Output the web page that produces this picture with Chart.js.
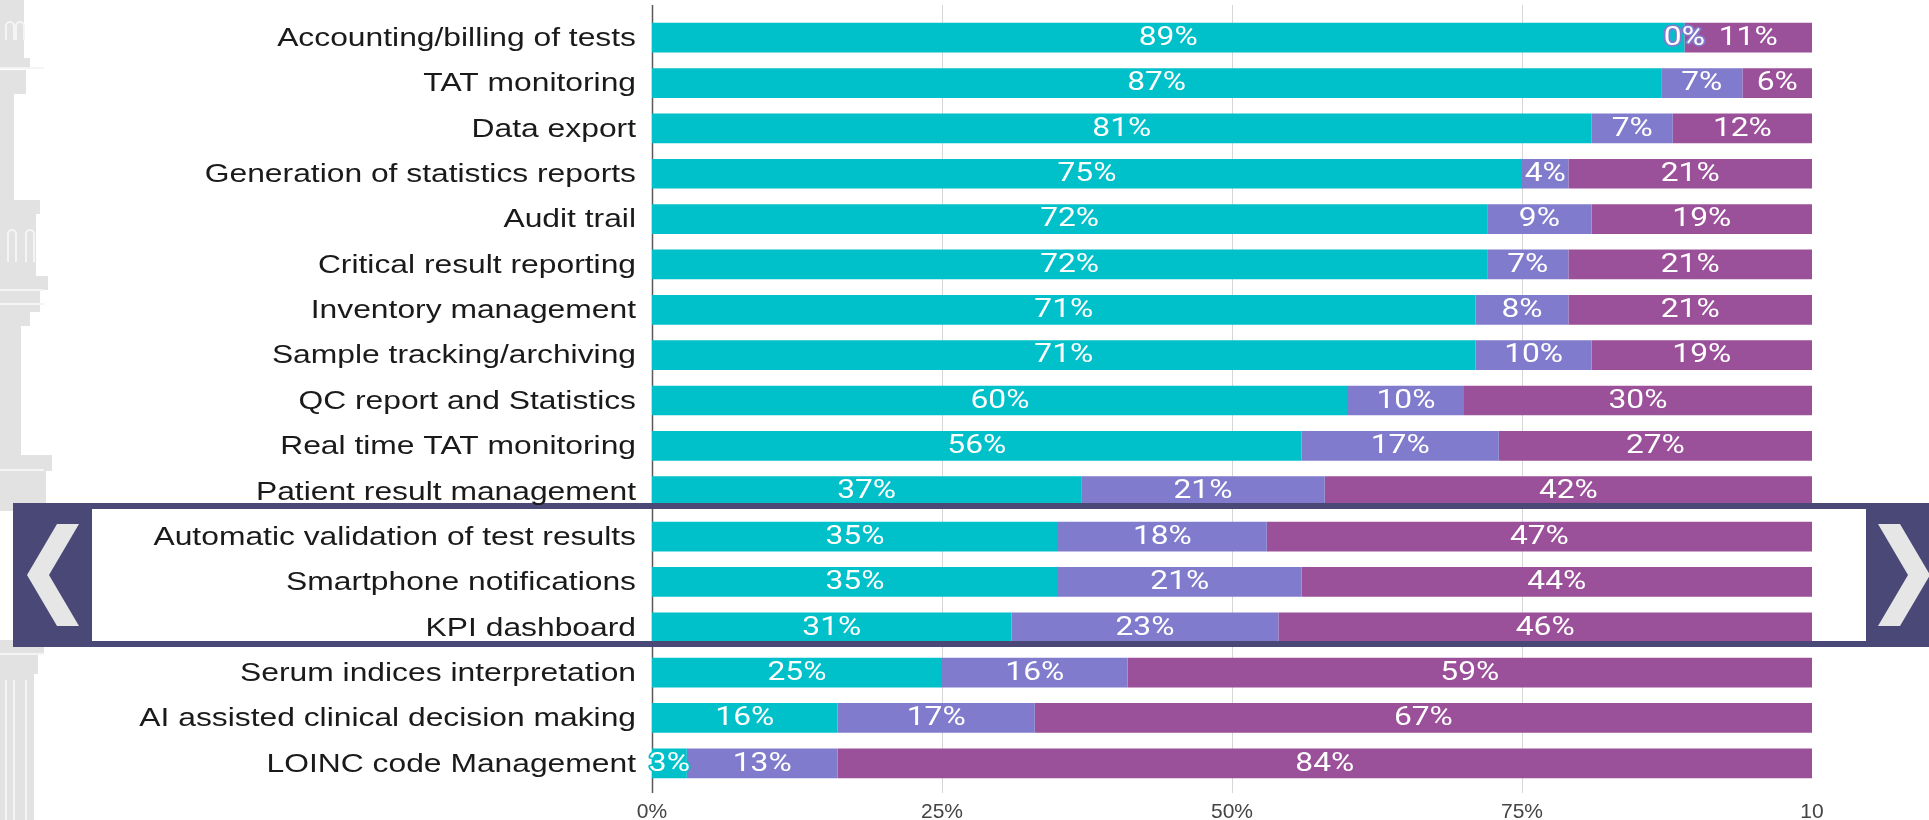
<!DOCTYPE html>
<html>
<head>
<meta charset="utf-8">
<script src="https://cdn.jsdelivr.net/npm/chart.js@4.4.1/dist/chart.umd.min.js"></script>
<style>
  html, body { margin: 0; padding: 0; background: #fff; }
  #wrap { position: relative; width: 1929px; height: 820px; }
</style>
</head>
<body>
<div id="wrap"><canvas id="lisChart"></canvas></div>
<script>
// ---------------- Data ----------------
const features = [
  'Accounting/billing of tests',
  'TAT monitoring',
  'Data export',
  'Generation of statistics reports',
  'Audit trail',
  'Critical result reporting',
  'Inventory management',
  'Sample tracking/archiving',
  'QC report and Statistics',
  'Real time TAT monitoring',
  'Patient result management',
  'Automatic validation of test results',
  'Smartphone notifications',
  'KPI dashboard',
  'Serum indices interpretation',
  'AI assisted clinical decision making',
  'LOINC code Management'
];
const tealValues   = [89, 87, 81, 75, 72, 72, 71, 71, 60, 56, 37, 35, 35, 31, 25, 16, 3];
const lavenderValues = [0, 7, 7, 4, 9, 7, 8, 10, 10, 17, 21, 18, 21, 23, 16, 17, 13];
const purpleValues = [11, 6, 12, 21, 19, 21, 21, 19, 30, 27, 42, 47, 44, 46, 59, 67, 84];
const xTickLabels  = ['0%', '25%', '50%', '75%', '10'];

const TEAL = '#00C0C9';
const LAVENDER = '#807BCC';
const PURPLE = '#9B509A';
const INDIGO = '#4A4876';

// ---------------- Backdrop: faded tower + highlight frame ----------------
function drawTower(ctx) {
  ctx.save();
  ctx.fillStyle = '#e2e2e2';
  // upper part
  ctx.fillRect(0, 0, 24, 60);
  ctx.fillRect(0, 58, 30, 10);
  ctx.fillRect(0, 70, 26, 24);
  ctx.fillRect(0, 94, 14, 106);
  // middle balcony
  ctx.fillRect(0, 200, 40, 14);
  ctx.fillRect(0, 214, 36, 62);
  ctx.fillRect(0, 276, 48, 14);
  ctx.fillRect(0, 290, 40, 22);
  ctx.fillRect(0, 312, 30, 14);
  ctx.fillRect(0, 326, 21, 134);
  // lower balcony
  ctx.fillRect(0, 455, 52, 16);
  ctx.fillRect(0, 471, 46, 40);
  ctx.fillRect(0, 640, 44, 14);
  ctx.fillRect(0, 654, 38, 20);
  ctx.fillRect(0, 674, 34, 146);
  // window / column details
  ctx.strokeStyle = '#f4f4f4';
  ctx.lineWidth = 2;
  [[6, 20, 40], [16, 20, 40], [8, 228, 262], [26, 228, 262]].forEach(([x, y0, y1]) => {
    ctx.beginPath(); ctx.moveTo(x, y1); ctx.lineTo(x, y0 + 6);
    ctx.arc(x + 4, y0 + 6, 4, Math.PI, 0); ctx.lineTo(x + 8, y1); ctx.stroke();
  });
  [[0, 68], [0, 290], [0, 304], [0, 470], [0, 654]].forEach(([x, y]) => {
    ctx.beginPath(); ctx.moveTo(x, y); ctx.lineTo(x + 44, y); ctx.stroke();
  });
  [6, 14, 26].forEach(x => {
    ctx.beginPath(); ctx.moveTo(x, 680); ctx.lineTo(x, 820); ctx.stroke();
  });
  ctx.restore();
}

const backdrop = {
  id: 'backdrop',
  beforeDraw(chart) {
    const ctx = chart.ctx;
    ctx.save();
    ctx.fillStyle = '#fff';
    ctx.fillRect(0, 0, chart.width, chart.height);
    drawTower(ctx);
    // highlight box interior
    ctx.fillStyle = '#fff';
    ctx.fillRect(13, 503, 1916, 144);
    // side panels
    ctx.fillStyle = INDIGO;
    ctx.fillRect(13, 503, 79, 144);
    ctx.fillRect(1866, 503, 63, 144);
    // chevrons
    ctx.fillStyle = '#e6e6e6';
    ctx.beginPath();
    ctx.moveTo(57, 524); ctx.lineTo(79, 524); ctx.lineTo(49, 575);
    ctx.lineTo(79, 626); ctx.lineTo(57, 626); ctx.lineTo(27, 575);
    ctx.closePath(); ctx.fill();
    ctx.beginPath();
    ctx.moveTo(1878, 524); ctx.lineTo(1900, 524); ctx.lineTo(1930, 575);
    ctx.lineTo(1900, 626); ctx.lineTo(1878, 626); ctx.lineTo(1908, 575);
    ctx.closePath(); ctx.fill();
    ctx.restore();
  }
};

// vertical axis line + gridlines, running a bit past the plot area
const gridLines = {
  id: 'gridLines',
  beforeDatasetsDraw(chart) {
    const { ctx, scales: { x } } = chart;
    ctx.save();
    [0, 25, 50, 75].forEach(v => {
      const px = Math.round(x.getPixelForValue(v)) + 0.5;
      ctx.strokeStyle = v === 0 ? '#5a5a5a' : '#d6d6d6';
      ctx.lineWidth = v === 0 ? 1.5 : 1;
      ctx.beginPath();
      ctx.moveTo(px, 5);
      ctx.lineTo(px, 793);
      ctx.stroke();
    });
    ctx.restore();
  }
};

// category labels (text in the slide is stretched horizontally)
const categoryLabels = {
  id: 'categoryLabels',
  afterDraw(chart) {
    const { ctx, scales: { y } } = chart;
    ctx.save();
    ctx.fillStyle = '#1a1a1a';
    ctx.font = '26.5px "Liberation Sans", Arial, sans-serif';
    ctx.textAlign = 'right';
    ctx.textBaseline = 'middle';
    features.forEach((name, i) => {
      const py = y.getPixelForValue(i) + 1;
      ctx.save();
      ctx.translate(636, py);
      ctx.scale(1.2, 1);
      ctx.fillText(name, 0, 0);
      ctx.restore();
    });
    ctx.restore();
  }
};

// white percentage labels inside the segments
const segmentLabels = {
  id: 'segmentLabels',
  afterDatasetsDraw(chart) {
    const ctx = chart.ctx;
    ctx.save();
    ctx.font = '25px Roboto, "Open Sans", sans-serif';
    ctx.textAlign = 'center';
    ctx.textBaseline = 'middle';
    ctx.lineJoin = 'round';
    chart.data.datasets.forEach((ds, di) => {
      const meta = chart.getDatasetMeta(di);
      meta.data.forEach((bar, i) => {
        const cx = (bar.x + bar.base) / 2;
        const txt = ds.data[i] + '%';
        ctx.save();
        ctx.translate(cx, bar.y + 1);
        ctx.scale(1.27, 1);
        ctx.strokeStyle = ds.backgroundColor;
        ctx.lineWidth = 3;
        ctx.strokeText(txt, 0, 0);
        ctx.fillStyle = '#fff';
        ctx.fillText(txt, 0, 0);
        ctx.restore();
      });
    });
    // frame lines of the highlight box
    ctx.fillStyle = INDIGO;
    ctx.fillRect(13, 503, 1916, 6);
    ctx.fillRect(13, 641, 1916, 6);
    ctx.restore();
  }
};

// ---------------- Chart ----------------
new Chart(document.getElementById('lisChart'), {
  type: 'bar',
  data: {
    labels: features,
    datasets: [
      { label: 'Teal', data: tealValues, backgroundColor: TEAL },
      { label: 'Lavender', data: lavenderValues, backgroundColor: LAVENDER },
      { label: 'Purple', data: purpleValues, backgroundColor: PURPLE }
    ]
  },
  options: {
    indexAxis: 'y',
    responsive: true,
    maintainAspectRatio: false,
    animation: false,
    datasets: { bar: { categoryPercentage: 1, barPercentage: 0.655 } },
    layout: { padding: { left: 652, right: 117, top: 15, bottom: 0 } },
    plugins: { legend: { display: false }, tooltip: { enabled: false } },
    scales: {
      x: {
        stacked: true,
        min: 0,
        max: 100,
        grid: { display: false, drawTicks: false },
        border: { display: false },
        afterFit(scale) { scale.height = 34; },
        ticks: {
          stepSize: 25,
          padding: 14,
          color: '#444',
          font: { family: '"Liberation Sans", Arial, sans-serif', size: 21 },
          callback: (value) => xTickLabels[value / 25]
        }
      },
      y: {
        stacked: true,
        display: false
      }
    }
  },
  plugins: [backdrop, gridLines, categoryLabels, segmentLabels]
});
</script>
</body>
</html>
